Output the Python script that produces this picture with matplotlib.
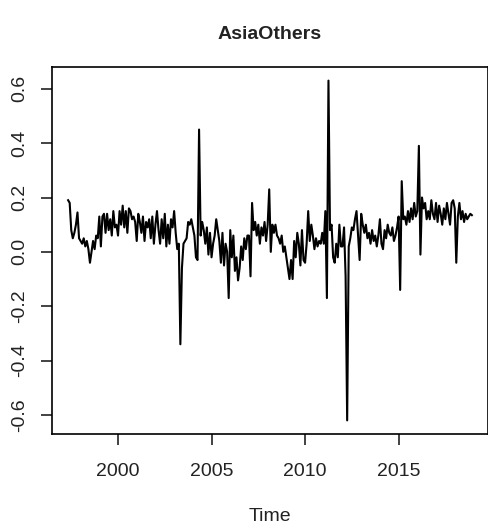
import matplotlib
matplotlib.use("Agg")
import matplotlib.pyplot as plt
import numpy as np

plt.rcParams['font.family'] = ['Liberation Sans', 'DejaVu Sans']
plt.rcParams['axes.unicode_minus'] = False

# monthly series, May 1997 .. Dec 2018
start_year = 1997
start_month = 5
v1997 = [0.19, 0.18, 0.08, 0.05, 0.07, 0.10, 0.145, 0.05]
v1998 = [0.04, 0.03, 0.05, 0.02, 0.04, 0.01, -0.04, 0.00, 0.04, 0.01, 0.06, 0.05]
v1999 = [0.13, 0.02, 0.13, 0.14, 0.07, 0.14, 0.08, 0.12, 0.06, 0.15, 0.09, 0.10]
v2000 = [0.06, 0.15, 0.10, 0.17, 0.09, 0.15, 0.07, 0.16, 0.15, 0.12, 0.13, 0.11]
v2001 = [0.04, 0.14, 0.11, 0.07, 0.13, 0.04, 0.11, 0.09, 0.12, 0.05, 0.13, 0.03]
v2002 = [0.10, 0.15, 0.08, 0.03, 0.12, 0.05, 0.14, 0.02, 0.10, 0.03, 0.12, 0.09]
v2003 = [0.15, 0.07, 0.01, 0.03, -0.34, -0.06, 0.03, 0.04, 0.05, 0.11, 0.10, 0.12]
v2004 = [0.09, 0.06, -0.02, -0.03, 0.45, 0.06, 0.11, 0.08, 0.03, 0.09, -0.01, 0.07]
v2005 = [-0.02, 0.03, 0.06, 0.12, 0.08, 0.04, -0.04, 0.07, -0.05, 0.03, 0.00, -0.17]
v2006 = [0.08, -0.02, 0.06, -0.07, -0.02, -0.105, -0.06, 0.02, -0.03, 0.05, 0.01, 0.06]
v2007 = [0.06, -0.09, 0.18, 0.08, 0.11, 0.06, 0.10, 0.03, 0.09, 0.06, 0.11, 0.04]
v2008 = [0.10, 0.23, 0.00, 0.10, 0.07, 0.10, 0.06, 0.05, 0.03, 0.06, 0.00, 0.02]
v2009 = [-0.02, -0.06, -0.10, -0.03, -0.10, 0.04, -0.02, 0.07, 0.03, -0.05, 0.08, -0.03]
v2010 = [-0.04, 0.03, 0.15, 0.04, 0.10, 0.06, 0.01, 0.05, 0.02, 0.04, 0.03, 0.07]
v2011 = [0.03, 0.15, -0.17, 0.63, 0.08, 0.10, -0.02, -0.04, 0.03, -0.02, 0.10, 0.02]
v2012 = [0.02, 0.09, -0.09, -0.62, 0.02, 0.05, 0.09, 0.08, 0.12, 0.15, 0.06, -0.03]
v2013 = [0.14, 0.10, 0.07, 0.10, 0.05, 0.07, 0.03, 0.08, 0.04, 0.06, 0.02, 0.06]
v2014 = [0.12, 0.03, 0.01, 0.08, 0.05, 0.10, 0.07, 0.06, 0.09, 0.04, 0.06, 0.09]
v2015 = [0.13, -0.14, 0.26, 0.12, 0.13, 0.10, 0.15, 0.11, 0.16, 0.12, 0.18, 0.13]
v2016 = [0.15, 0.39, -0.01, 0.20, 0.16, 0.18, 0.12, 0.15, 0.12, 0.19, 0.14, 0.12]
v2017 = [0.18, 0.11, 0.17, 0.14, 0.10, 0.16, 0.12, 0.18, 0.14, 0.10, 0.18, 0.19]
v2018 = [0.16, -0.04, 0.13, 0.18, 0.12, 0.15, 0.11, 0.14, 0.12, 0.13, 0.14, 0.135]

values = np.array(v1997 + v1998 + v1999 + v2000 + v2001 + v2002 + v2003 + v2004
                  + v2005 + v2006 + v2007 + v2008 + v2009 + v2010 + v2011 + v2012
                  + v2013 + v2014 + v2015 + v2016 + v2017 + v2018)
time = start_year + (start_month - 1) / 12 + np.arange(len(values)) / 12

xticks = [2000, 2005, 2010, 2015]
yticks = [-0.6, -0.4, -0.2, 0.0, 0.2, 0.4, 0.6]

fig = plt.figure(figsize=(4.89, 5.29), dpi=100)
ax = fig.add_axes([0.1063, 0.1796, 0.8917, 0.6937])

ax.plot(time, values, color='black', lw=1.5)

# R-style 4% padding around the data range
xr = time.max() - time.min()
yr = values.max() - values.min()
ax.set_xlim(time.min() - 0.04 * xr, time.max() + 0.04 * xr)
ax.set_ylim(values.min() - 0.04 * yr, values.max() + 0.04 * yr)

ax.set_xticks(xticks)
ax.set_xticklabels([str(t) for t in xticks])
ax.set_yticks(yticks)
ax.set_yticklabels(['%.1f' % t for t in yticks], rotation=90, va='center')

for s in ax.spines.values():
    s.set_linewidth(1.2)
ax.tick_params(length=8, width=1.2, labelsize=14, colors='#222222')
ax.tick_params(axis='x', pad=13)
ax.tick_params(axis='y', pad=9)

ax.set_xlabel('Time', fontsize=14, labelpad=20, color='#222222')
ax.set_title('AsiaOthers', fontsize=14, fontweight='bold', pad=20, color='#222222')

fig.savefig('out.png', dpi=100)
